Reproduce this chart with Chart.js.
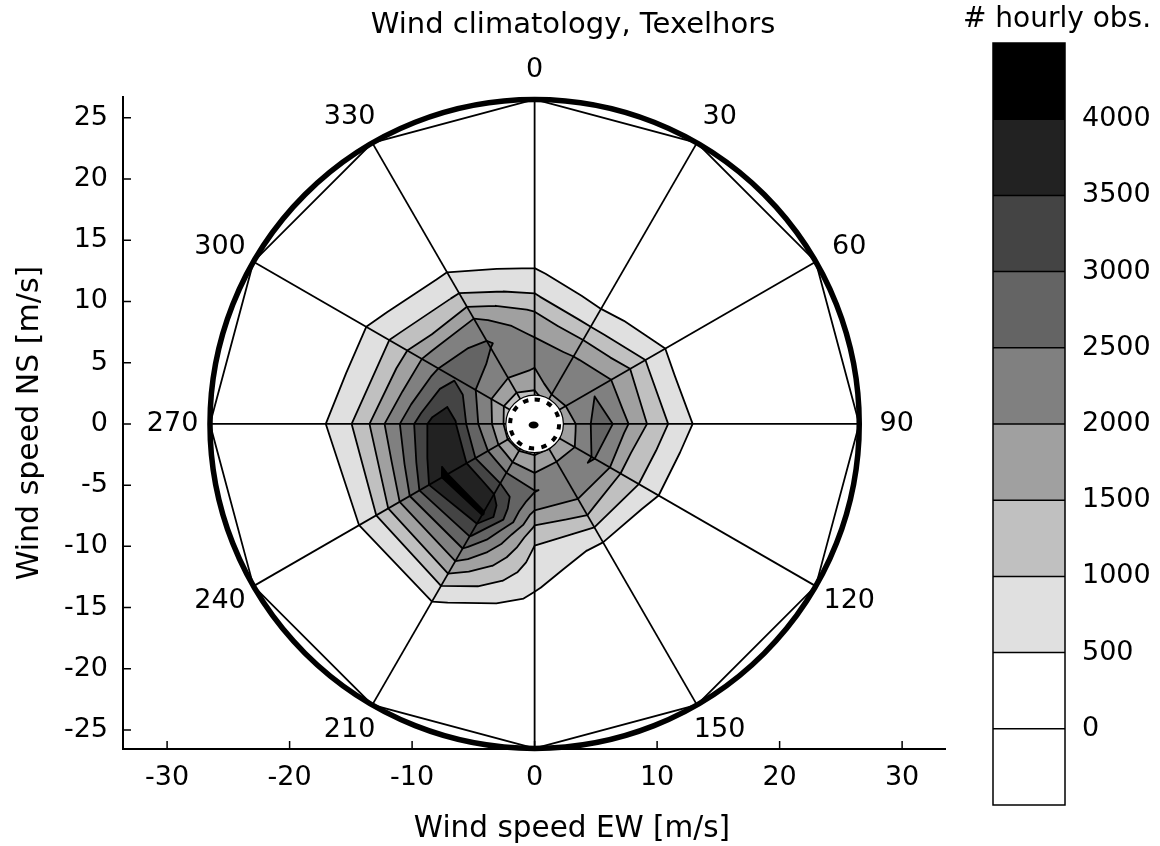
<!DOCTYPE html>
<html>
<head>
<meta charset="utf-8">
<title>Wind climatology, Texelhors</title>
<script src="https://cdn.jsdelivr.net/npm/chart.js@4.4.1/dist/chart.umd.min.js"></script>
<style>
  html, body { margin: 0; padding: 0; background: #ffffff; }
  canvas { display: block; }
</style>
</head>
<body>
<canvas id="rose" width="1160" height="846"></canvas>
<script>
// Wind directions (degrees, clockwise from north) and speed bin centres (m/s)
const directions = [0, 30, 60, 90, 120, 150, 180, 210, 240, 270, 300, 330];
const speeds = [0.5, 1.5, 2.5, 3.5, 4.5, 5.5, 6.5, 7.5, 8.5, 9.5, 10.5, 11.5, 12.5, 13.5,
                14.5, 15.5, 16.5, 17.5, 18.5, 19.5, 20.5, 21.5, 22.5, 23.5, 24.5, 25.5, 26.5];

// Number of hourly observations per speed bin, one list per direction
const obs000 = [200, 800, 1400, 1800, 1990, 2120, 2130, 1900, 1700, 1400, 1040, 800, 550, 330, 200, 110, 50, 20, 8, 3, 1, 0, 0, 0, 0, 0, 0];
const obs030 = [200, 980, 1900, 2250, 2350, 2300, 1950, 1680, 1250, 870, 580, 350, 200, 110, 50, 20, 8, 3, 1, 0, 0, 0, 0, 0, 0, 0, 0];
const obs060 = [200, 980, 1850, 2200, 2400, 2450, 2250, 1900, 1650, 1350, 980, 760, 440, 280, 160, 80, 30, 10, 4, 1, 0, 0, 0, 0, 0, 0, 0];
const obs090 = [200, 980, 1700, 2050, 2480, 2720, 2470, 2050, 1750, 1380, 1120, 820, 600, 350, 200, 110, 50, 20, 8, 3, 1, 0, 0, 0, 0, 0, 0];
const obs120 = [200, 900, 1600, 1900, 2250, 2540, 2300, 1800, 1300, 1080, 830, 540, 330, 190, 100, 40, 15, 5, 2, 0, 0, 0, 0, 0, 0, 0, 0];
const obs150 = [200, 900, 1600, 1980, 2250, 2350, 2200, 1850, 1550, 1100, 700, 400, 250, 140, 70, 30, 10, 4, 1, 0, 0, 0, 0, 0, 0, 0, 0];
const obs180 = [200, 900, 1480, 1850, 2150, 2520, 2250, 1800, 1420, 1080, 900, 780, 650, 530, 380, 230, 120, 50, 20, 8, 3, 1, 0, 0, 0, 0, 0];
const obs210 = [200, 900, 1480, 1950, 2450, 2950, 3450, 3850, 4050, 3450, 3050, 2600, 2200, 1750, 1350, 900, 560, 320, 170, 80, 30, 10, 4, 1, 0, 0, 0];
const obs240 = [200, 900, 1480, 2050, 2550, 2950, 3550, 3820, 4080, 3750, 3200, 2650, 2100, 1650, 1150, 800, 510, 300, 170, 90, 40, 20, 8, 3, 1, 0, 0];
const obs270 = [200, 800, 1480, 2010, 2450, 2950, 3550, 3820, 3620, 3150, 2700, 2300, 1900, 1490, 1100, 870, 620, 400, 230, 120, 60, 20, 8, 3, 1, 0, 0];
const obs300 = [200, 700, 1300, 1800, 2150, 2480, 2800, 2950, 2700, 2350, 2050, 1650, 1350, 1050, 800, 570, 380, 230, 120, 60, 20, 8, 3, 1, 0, 0, 0];
const obs330 = [200, 700, 1300, 1750, 2050, 2250, 2380, 2560, 2380, 2150, 1800, 1250, 950, 700, 450, 280, 160, 80, 30, 10, 4, 1, 0, 0, 0, 0, 0];

// Contour levels and the grey of each band (below 0, 0-500, ..., above 4000)
const levels = [0, 500, 1000, 1500, 2000, 2500, 3000, 3500, 4000];
const bandColors = ['#ffffff', '#ffffff', '#e0e0e0', '#c0c0c0', '#a0a0a0', '#808080', '#646464', '#444444', '#222222', '#000000'];

// Axis ticks and compass labels
const xTicks = [-30, -20, -10, 0, 10, 20, 30];
const yTicks = [-25, -20, -15, -10, -5, 0, 5, 10, 15, 20, 25];
const compassAngles = [0, 30, 60, 90, 120, 150, 210, 240, 270, 300, 330];
const compassLabels = ['0', '30', '60', '90', '120', '150', '210', '240', '270', '300', '330'];

const countsByDir = [obs000, obs030, obs060, obs090, obs120, obs150, obs180, obs210, obs240, obs270, obs300, obs330];

const FONT = 'DejaVu Sans';
const outerSpeed = speeds[speeds.length - 1];
const calmRadius = 2.35;     // white calm disc
const calmDashRadius = 2.0;  // dashed ring inside it
const labelRadius = 28.9;    // compass label distance
const labelPush = 8;         // extra sideways push of compass labels (px)
const LINE_W = 1.8;

Chart.defaults.font.family = FONT;
Chart.defaults.color = '#000000';

function lerp(a, b, t) { return { x: a.x + (b.x - a.x) * t, y: a.y + (b.y - a.y) * t }; }

// Polygons of the part of a grid cell where the count is >= L
function superPolys(P, V, L) {
  const up = V.map(v => v >= L);
  const n = up.filter(Boolean).length;
  if (n === 0) return [];
  if (n === 4) return [P];
  const cross = e => { const b = (e + 1) % 4; return lerp(P[e], P[b], (L - V[e]) / (V[b] - V[e])); };
  if (n === 2 && up[0] === up[2]) {
    const centreUp = (V[0] + V[1] + V[2] + V[3]) / 4 >= L;
    if (!centreUp) {
      const polys = [];
      for (let k = 0; k < 4; k++) if (up[k]) polys.push([P[k], cross(k), cross((k + 3) % 4)]);
      return polys;
    }
  }
  const out = [];
  for (let k = 0; k < 4; k++) {
    if (up[k]) out.push(P[k]);
    if (up[k] !== up[(k + 1) % 4]) out.push(cross(k));
  }
  return [out];
}

// Contour segments of level L inside one cell
function isoSegments(P, V, L) {
  const up = V.map(v => v >= L);
  const pts = [];
  for (let e = 0; e < 4; e++) {
    const b = (e + 1) % 4;
    pts[e] = up[e] !== up[b] ? lerp(P[e], P[b], (L - V[e]) / (V[b] - V[e])) : null;
  }
  const hit = pts.map((p, i) => p ? i : -1).filter(i => i >= 0);
  if (hit.length === 2) return [[pts[hit[0]], pts[hit[1]]]];
  if (hit.length === 4) {
    const centreUp = (V[0] + V[1] + V[2] + V[3]) / 4 >= L;
    if (up[0] === centreUp) return [[pts[0], pts[1]], [pts[2], pts[3]]];
    return [[pts[3], pts[0]], [pts[1], pts[2]]];
  }
  return [];
}

function forEachCell(nodes, fn) {
  const nd = directions.length;
  for (let i = 0; i < nd; i++) {
    const j = (i + 1) % nd;
    for (let k = 0; k < speeds.length - 1; k++) {
      const P = [nodes[i][k], nodes[j][k], nodes[j][k + 1], nodes[i][k + 1]];
      const V = [countsByDir[i][k], countsByDir[j][k], countsByDir[j][k + 1], countsByDir[i][k + 1]];
      fn(P, V);
    }
  }
}

const contourPlugin = {
  id: 'windContours',
  beforeDatasetsDraw(chart) {
    const { ctx, chartArea, scales: { x: xs, y: ys } } = chart;
    const nodes = directions.map(d => {
      const a = d * Math.PI / 180;
      return speeds.map(s => ({
        x: xs.getPixelForValue(s * Math.sin(a)),
        y: ys.getPixelForValue(s * Math.cos(a))
      }));
    });
    ctx.save();
    ctx.beginPath();
    ctx.rect(chartArea.left, chartArea.top, chartArea.right - chartArea.left, chartArea.bottom - chartArea.top);
    ctx.clip();
    // filled bands, lowest first
    levels.forEach((L, li) => {
      ctx.beginPath();
      forEachCell(nodes, (P, V) => {
        for (const poly of superPolys(P, V, L)) {
          if (poly.length < 3) continue;
          ctx.moveTo(poly[0].x, poly[0].y);
          for (let m = 1; m < poly.length; m++) ctx.lineTo(poly[m].x, poly[m].y);
          ctx.closePath();
        }
      });
      ctx.fillStyle = bandColors[li + 1];
      ctx.fill();
    });
    // contour lines
    ctx.beginPath();
    levels.forEach(L => {
      forEachCell(nodes, (P, V) => {
        for (const [a, b] of isoSegments(P, V, L)) {
          ctx.moveTo(a.x, a.y);
          ctx.lineTo(b.x, b.y);
        }
      });
    });
    ctx.strokeStyle = '#000000';
    ctx.lineWidth = LINE_W;
    ctx.lineCap = 'round';
    ctx.lineJoin = 'round';
    ctx.stroke();
    ctx.restore();
  },
  afterDatasetsDraw(chart) {
    const { ctx, scales: { x: xs, y: ys } } = chart;
    const cx = xs.getPixelForValue(0), cy = ys.getPixelForValue(0);
    const rx = r => xs.getPixelForValue(r) - cx;
    const ry = r => cy - ys.getPixelForValue(r);
    ctx.save();
    // outer speed circle
    ctx.beginPath();
    ctx.ellipse(cx, cy, rx(outerSpeed), ry(outerSpeed), 0, 0, 2 * Math.PI);
    ctx.strokeStyle = '#000000';
    ctx.lineWidth = 5.5;
    ctx.stroke();
    // calm disc
    ctx.beginPath();
    ctx.ellipse(cx, cy, rx(calmRadius), ry(calmRadius), 0, 0, 2 * Math.PI);
    ctx.fillStyle = '#ffffff';
    ctx.fill();
    ctx.lineWidth = 1.2;
    ctx.stroke();
    const dashR = rx(calmDashRadius);
    const period = 2 * Math.PI * dashR / 12;
    ctx.beginPath();
    ctx.setLineDash([period * 0.42, period * 0.58]);
    ctx.lineWidth = 4;
    ctx.ellipse(cx, cy, dashR, ry(calmDashRadius), 0, -Math.PI / 2, 1.5 * Math.PI);
    ctx.stroke();
    ctx.setLineDash([]);
    ctx.beginPath();
    ctx.ellipse(cx - 1, cy + 1, 5, 3.5, 0, 0, 2 * Math.PI);
    ctx.fillStyle = '#000000';
    ctx.fill();
    // compass labels
    ctx.font = '27px "' + FONT + '"';
    ctx.textAlign = 'center';
    ctx.textBaseline = 'middle';
    compassAngles.forEach((d, i) => {
      const a = d * Math.PI / 180;
      const s = Math.sin(a);
      const side = Math.abs(s) < 1e-9 ? 0 : Math.sign(s);
      ctx.fillText(compassLabels[i],
        xs.getPixelForValue(labelRadius * s) + side * labelPush,
        ys.getPixelForValue(labelRadius * Math.cos(a)));
    });
    ctx.restore();
  },
  afterDraw(chart) {
    const { ctx, chartArea, scales: { x: xs, y: ys } } = chart;
    ctx.save();
    // inward tick marks
    ctx.strokeStyle = '#000000';
    ctx.lineWidth = 1.5;
    ctx.beginPath();
    xs.ticks.forEach(t => {
      const px = xs.getPixelForValue(t.value);
      ctx.moveTo(px, chartArea.bottom);
      ctx.lineTo(px, chartArea.bottom - 8);
    });
    ys.ticks.forEach(t => {
      const py = ys.getPixelForValue(t.value);
      ctx.moveTo(chartArea.left, py);
      ctx.lineTo(chartArea.left + 8, py);
    });
    ctx.stroke();

    // colour bar
    const cb = { left: 993, right: 1065, top: 43, bottom: 805 };
    const n = bandColors.length;
    const h = (cb.bottom - cb.top) / n;
    for (let k = 0; k < n; k++) {
      ctx.fillStyle = bandColors[k];
      ctx.fillRect(cb.left, cb.bottom - (k + 1) * h, cb.right - cb.left, h);
    }
    ctx.beginPath();
    for (let k = 1; k < n; k++) {
      const y = cb.bottom - k * h;
      ctx.moveTo(cb.left, y);
      ctx.lineTo(cb.right, y);
    }
    ctx.lineWidth = 1.5;
    ctx.stroke();
    ctx.strokeRect(cb.left, cb.top, cb.right - cb.left, cb.bottom - cb.top);
    ctx.fillStyle = '#000000';
    ctx.font = '27px "' + FONT + '"';
    ctx.textAlign = 'left';
    ctx.textBaseline = 'middle';
    for (let k = 1; k < n; k++) {
      ctx.fillText(String(levels[k - 1]), 1082, cb.bottom - k * h);
    }
    ctx.font = '28px "' + FONT + '"';
    ctx.textAlign = 'center';
    ctx.textBaseline = 'alphabetic';
    ctx.fillText('# hourly obs.', 1057, 27);

    // title and horizontal axis title
    ctx.font = '29px "' + FONT + '"';
    ctx.fillText('Wind climatology, Texelhors', 573, 33);
    ctx.font = '29.5px "' + FONT + '"';
    ctx.fillText('Wind speed EW [m/s]', 572, 837);
    ctx.restore();
  }
};

// spokes and outer 12-gon as line datasets
const spokeSets = directions.map(d => {
  const a = d * Math.PI / 180;
  return {
    data: [{ x: 0, y: 0 }, { x: outerSpeed * Math.sin(a), y: outerSpeed * Math.cos(a) }],
    showLine: true, borderColor: '#000000', borderWidth: LINE_W, pointRadius: 0, fill: false
  };
});
const ringPoints = directions.concat([directions[0]]).map(d => {
  const a = d * Math.PI / 180;
  return { x: outerSpeed * Math.sin(a), y: outerSpeed * Math.cos(a) };
});

new Chart(document.getElementById('rose'), {
  type: 'scatter',
  data: {
    datasets: spokeSets.concat([{
      data: ringPoints, showLine: true, borderColor: '#000000', borderWidth: LINE_W, pointRadius: 0, fill: false
    }])
  },
  options: {
    responsive: false,
    animation: false,
    devicePixelRatio: 1,
    events: [],
    layout: { padding: { top: 97, right: 215, left: 0, bottom: 0 } },
    plugins: { legend: { display: false }, title: { display: false }, tooltip: { enabled: false } },
    scales: {
      x: {
        type: 'linear', min: -33.6, max: 33.5,
        afterBuildTicks: s => { s.ticks = xTicks.map(v => ({ value: v })); },
        afterFit: s => { s.height = 97; },
        grid: { display: false, drawTicks: false },
        border: { display: true, color: '#000000', width: 2 },
        ticks: { autoSkip: false, maxRotation: 0, padding: 13, font: { size: 27 }, color: '#000000' }
      },
      y: {
        type: 'linear', min: -26.55, max: 26.7,
        afterBuildTicks: s => { s.ticks = yTicks.map(v => ({ value: v })); },
        afterFit: s => { s.width = 123; },
        grid: { display: false, drawTicks: false },
        border: { display: true, color: '#000000', width: 2 },
        ticks: { autoSkip: false, padding: 15, font: { size: 27 }, color: '#000000' },
        title: { display: true, text: 'Wind speed NS [m/s]', font: { size: 30 }, color: '#000000', padding: { top: 12, bottom: 0 } }
      }
    }
  },
  plugins: [contourPlugin]
});
</script>
</body>
</html>
